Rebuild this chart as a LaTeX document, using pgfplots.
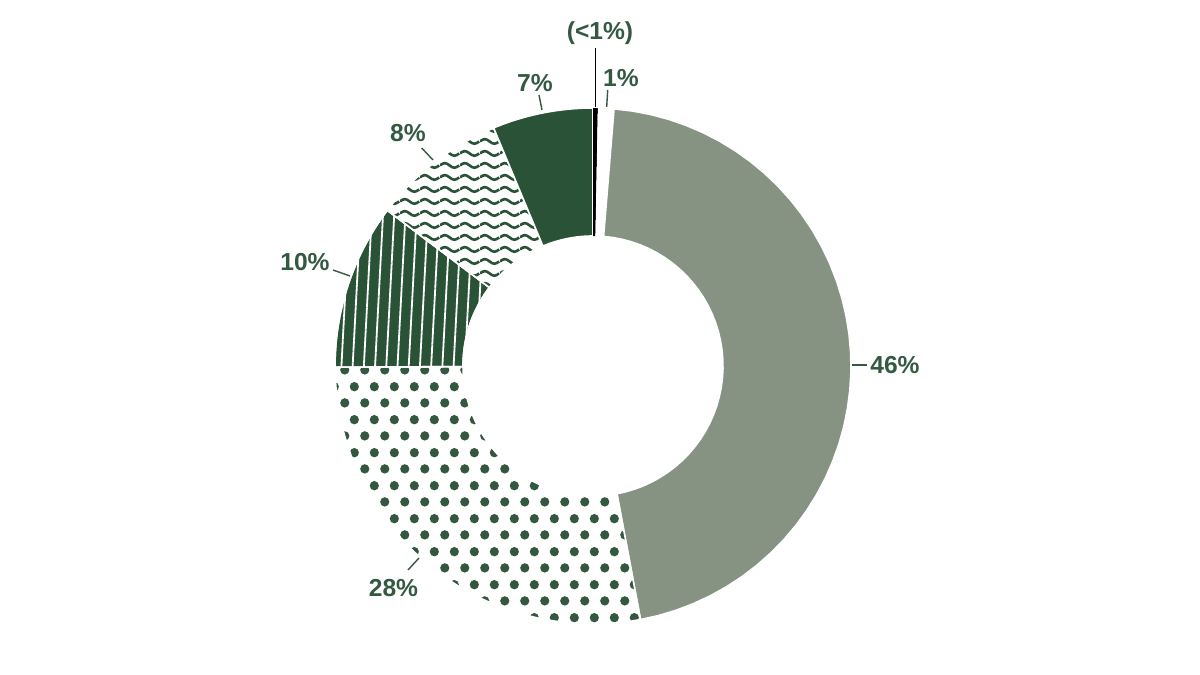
\documentclass[border=0pt]{standalone}
\usepackage{fontspec}
\setmainfont{Liberation Sans}
\usepackage{pgfplots}
\pgfplotsset{compat=1.18}
\usepackage{pgfplotstable}
\usetikzlibrary{patterns.meta}

\definecolor{greyslice}{HTML}{869383}
\definecolor{dkgreen}{HTML}{2A5236}
\definecolor{dotgreen}{HTML}{34573F}
\definecolor{labgreen}{HTML}{335A40}

% patterns (1px of the reference = 0.5pt)
\tikzdeclarepattern{
  name=mydots, type=uncolored,
  bounding box={(0pt,0pt) and (10pt,16.6pt)},
  tile size={(10pt,16.6pt)},
  code={
    \fill (2.5pt,4.15pt) circle (2.4pt);
    \fill (7.5pt,12.45pt) circle (2.4pt);
  }
}
\tikzdeclarepattern{
  name=mywaves, type=uncolored,
  bounding box={(0pt,0pt) and (10pt,6pt)},
  tile size={(10pt,6pt)},
  code={
    \draw[line width=1.4pt] (0pt,3pt) sin (2.5pt,4.25pt) cos (5pt,3pt) sin (7.5pt,1.75pt) cos (10pt,3pt);
  }
}

% shares, clockwise from the top
\pgfplotstableread{
name   share
sliver 0.3
one    1.0
grey   45.8
dots   27.9
vlines 10.4
waves  8.4
dark   6.3
}\slices
\pgfplotstablecreatecol[expr accum={\pgfmathaccuma+\thisrow{share}}{0}]{cum}\slices
\pgfplotstablegetelem{6}{cum}\of\slices
\let\total\pgfplotsretval
\pgfmathsetmacro\deg{360/\total}
\foreach \i in {0,...,6}{%
  \pgfplotstablegetelem{\i}{cum}\of\slices
  \let\c\pgfplotsretval
  \pgfplotstablegetelem{\i}{share}\of\slices
  \pgfmathsetmacro\s{90-\deg*(\c-\pgfplotsretval)}%
  \pgfmathsetmacro\e{90-\deg*\c}%
  \expandafter\xdef\csname as\i\endcsname{\s}%
  \expandafter\xdef\csname ae\i\endcsname{\e}%
}
\newcommand\A[1]{\csname as#1\endcsname}
\newcommand\B[1]{\csname ae#1\endcsname}

% ring sector: centre (593,309), radii 258 and 130 (pixel units)
\newcommand\sector[3]{%
  \addplot[#3, variable=\t, samples at={0,1,...,40,100,101,...,140}]
    ({593+(\t<50 ? 258 : 130)*cos(\t<50 ? #1+(#2-#1)*\t/40 : #2+(#1-#2)*(\t-100)/40)},
     {309+(\t<50 ? 258 : 130)*sin(\t<50 ? #1+(#2-#1)*\t/40 : #2+(#1-#2)*(\t-100)/40)}) -- cycle;
}

\tikzset{lab/.style={font=\bfseries\fontsize{12.3}{14}\selectfont, text=labgreen, inner sep=0pt}}

\begin{document}
\begin{tikzpicture}
\begin{axis}[
  hide axis, scale only axis,
  width=600pt, height=337.5pt,
  xmin=0, xmax=1200, ymin=0, ymax=675,
  clip=false,
]
\addplot[draw=none] coordinates {(0,0) (1200,675)};

\sector{\A{2}}{\B{2}}{fill=greyslice, draw=white, line width=0.8pt}
\sector{\A{3}}{\B{3}}{pattern=mydots, pattern color=dotgreen, draw=white, line width=0.8pt}
\sector{\A{4}}{\B{4}}{fill=dkgreen, draw=white, line width=0.8pt,
  postaction={pattern={Lines[angle=87, distance=5.6pt, line width=0.9pt]}, pattern color=white}}
\sector{\A{5}}{\B{5}}{pattern=mywaves, pattern color=dkgreen, draw=white, line width=0.8pt}
\sector{\A{6}}{\B{6}}{fill=dkgreen, draw=white, line width=0.8pt}
\sector{\A{0}}{\B{0}}{fill=black, draw=none}
\sector{\A{1}}{\B{1}}{fill=white, draw=none}

% leader lines
\addplot[black, line width=0.7pt] coordinates {(595.5,627) (595.5,568)};
\addplot[labgreen, line width=0.7pt] coordinates {(607.7,585) (606.7,568)};
\addplot[labgreen, line width=0.7pt] coordinates {(539,580) (542,565)};
\addplot[labgreen, line width=0.7pt] coordinates {(421.7,527) (433,515)};
\addplot[labgreen, line width=0.7pt] coordinates {(333,405) (350,399)};
\addplot[labgreen, line width=0.7pt] coordinates {(852,310) (867,310)};
\addplot[labgreen, line width=0.7pt] coordinates {(408,105) (419,117)};

% labels
\node[lab] at (axis cs:600,642) {(<1\%)};
\node[lab] at (axis cs:621,597) {1\%};
\node[lab] at (axis cs:535,592) {7\%};
\node[lab] at (axis cs:408,542) {8\%};
\node[lab] at (axis cs:305,413) {10\%};
\node[lab] at (axis cs:895,310) {46\%};
\node[lab] at (axis cs:393.5,87) {28\%};
\end{axis}
\end{tikzpicture}
\end{document}
